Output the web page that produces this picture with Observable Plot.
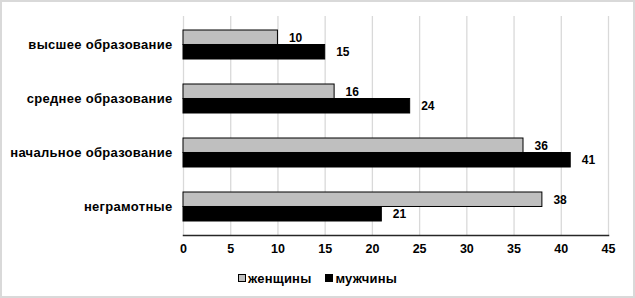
<!DOCTYPE html>
<html>
<head>
<meta charset="utf-8">
<script src="https://cdn.jsdelivr.net/npm/d3@7"></script>
<script src="https://cdn.jsdelivr.net/npm/@observablehq/plot@0.6"></script>
<style>
  html, body { margin: 0; padding: 0; background: #fff; }
  #frame { position: absolute; left: 0; top: 0; width: 635px; height: 298px; box-sizing: border-box; border: 2px solid #d9d9d9; }
  #chart { position: absolute; left: 0; top: 0; }
  #legend { position: absolute; left: 238px; top: 270px; white-space: nowrap; font-family: "Liberation Sans", Arial, sans-serif; font-weight: bold; font-size: 13px; letter-spacing: 0.2px; color: #000; }
  .item { display: inline-flex; align-items: center; margin-right: 14px; }
  .sw { width: 6px; height: 6px; border: 1px solid #000; margin-right: 2px; }
  #chart svg g[aria-label="y-axis tick label"] text { letter-spacing: 0.3px; }
</style>
</head>
<body>
<div id="frame"></div>
<div id="chart"></div>
<div id="legend"></div>
<script>
const categories = ["высшее образование", "среднее образование", "начальное образование", "неграмотные"];
const series = ["женщины", "мужчины"];
const women = [10, 16, 36, 38];
const men = [15, 24, 41, 21];
const xTicks = [0, 5, 10, 15, 20, 25, 30, 35, 40, 45];
const colors = ["#bfbfbf", "#000000"];

const womenData = categories.map((c, i) => ({category: c, value: women[i]}));
const menData = categories.map((c, i) => ({category: c, value: men[i]}));

const W = 635, H = 262, mT = 16, mB = 27;
const padInner = 0.47;
const step = (H - mT - mB) / categories.length;
const half = step * (1 - padInner) / 2;

const font = "'Liberation Sans', Arial, sans-serif";

const chart = Plot.plot({
  width: W, height: H,
  marginLeft: 183, marginRight: 27, marginTop: mT, marginBottom: mB,
  style: {fontFamily: font, background: "transparent"},
  x: {domain: [0, 45], ticks: xTicks},
  y: {domain: categories, paddingInner: padInner, paddingOuter: padInner / 2},
  marks: [
    Plot.gridX(xTicks, {stroke: "#d9d9d9", strokeOpacity: 1, strokeWidth: 1.3}),
    Plot.barX(womenData, {y: "category", x: "value", fill: colors[0], stroke: "#000", strokeWidth: 1, insetBottom: half}),
    Plot.barX(menData, {y: "category", x: "value", fill: colors[1], stroke: "#000", strokeWidth: 1, insetTop: half}),
    Plot.text(womenData, {y: "category", x: "value", text: d => String(d.value), dy: -half / 2, dx: 11, textAnchor: "start", fontWeight: "bold", fontSize: 12, fill: "#000"}),
    Plot.text(menData, {y: "category", x: "value", text: d => String(d.value), dy: half / 2, dx: 11, textAnchor: "start", fontWeight: "bold", fontSize: 12, fill: "#000"}),
    Plot.frame({anchor: "bottom", stroke: "#262626", strokeWidth: 1.5}),
    Plot.axisX({ticks: xTicks, tickSize: 0, tickPadding: 9, label: null, fontSize: 12.5, fontWeight: "bold", fill: "#000"}),
    Plot.axisY({tickSize: 0, tickPadding: 11, label: null, fontSize: 13, fontWeight: "bold", fill: "#000"})
  ]
});
document.getElementById("chart").appendChild(chart);

const legend = document.getElementById("legend");
series.forEach((s, i) => {
  const item = document.createElement("span");
  item.className = "item";
  const sw = document.createElement("span");
  sw.className = "sw";
  sw.style.background = colors[i];
  item.appendChild(sw);
  item.appendChild(document.createTextNode(s));
  legend.appendChild(item);
});
</script>
</body>
</html>
